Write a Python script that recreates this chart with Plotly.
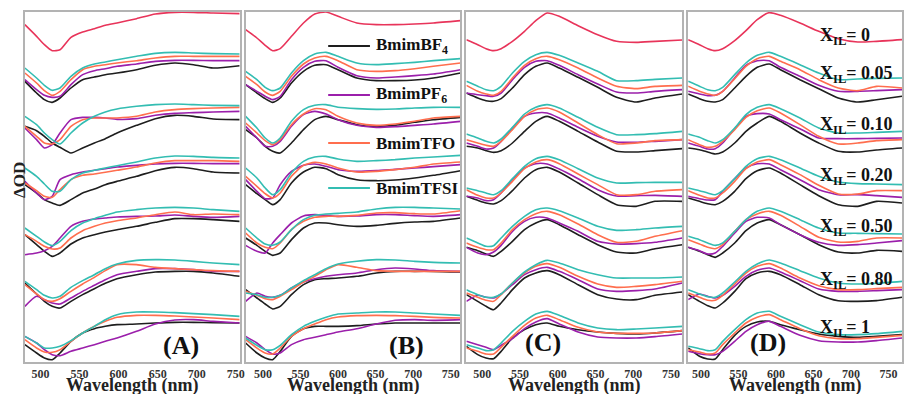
import plotly.graph_objects as go

# ---------------- data (ΔOD, arbitrary units, vertically offset per X_IL) ----------------
# wavelength grids (nm) at which each panel's curves were read
WL_A = [480, 495, 505, 515, 525, 539, 554, 569, 583, 598, 623, 647, 672, 696, 721, 755]
WL_B = [477, 492, 503, 513, 523, 538, 554, 569, 584, 600, 625, 651, 676, 702, 727, 763]
WL_C = [479, 494, 505, 515, 525, 540, 556, 571, 586, 602, 627, 653, 678, 704, 729, 765]
WL_D = [483, 498, 509, 519, 529, 545, 560, 575, 591, 606, 632, 657, 683, 709, 734, 768]
XIL = ["0", "0.05", "0.10", "0.20", "0.50", "0.80", "1"]
SERIES = ["BmimBF<sub>4</sub>", "BmimPF<sub>6</sub>", "BmimTFO", "BmimTFSI"]
PANELS = ["(A)", "(B)", "(C)", "(D)"]
TICKS = [500, 550, 600, 650, 700, 750]
X_RANGES = [[480, 755], [477, 763], [479, 765], [483, 768]]

# ---- Panel A ----
A_X0 = [-50, -85, -110, -128, -125, -88, -72, -62, -52, -45, -32, -18, -13, -13, -15, -17]
A_BF4 = [
    [-220, -255, -275, -283, -270, -240, -215, -207, -200, -195, -185, -172, -165, -170, -180, -173],
    [-355, -368, -385, -405, -418, -435, -420, -405, -392, -375, -352, -332, -322, -325, -333, -335],
    [-530, -555, -575, -585, -592, -575, -555, -543, -530, -520, -505, -488, -478, -482, -492, -495],
    [-680, -710, -730, -745, -735, -708, -690, -680, -672, -665, -655, -643, -632, -632, -635, -640],
    [-825, -858, -880, -895, -900, -880, -860, -842, -826, -812, -800, -792, -790, -790, -795, -805],
    [-1010, -1035, -1050, -1055, -1035, -1000, -975, -962, -955, -950, -948, -945, -943, -943, -944, -945],
]
A_PF6 = [
    [-215, -245, -262, -268, -265, -230, -200, -188, -182, -175, -168, -160, -157, -157, -158, -158],
    [-360, -395, -420, -410, -375, -335, -328, -328, -330, -334, -332, -322, -316, -314, -312, -310],
    [-520, -555, -575, -565, -515, -500, -492, -487, -482, -477, -472, -468, -466, -466, -467, -467],
    [-740, -735, -728, -715, -690, -655, -640, -633, -630, -627, -625, -624, -621, -625, -628, -625],
    [-895, -865, -875, -885, -888, -870, -850, -832, -815, -800, -790, -782, -782, -785, -790, -790],
    [-985, -1005, -1025, -1040, -1043, -1030, -1020, -1010, -1000, -990, -970, -948, -936, -935, -940, -945],
]
A_TFO = [
    [-195, -225, -248, -262, -250, -215, -185, -175, -170, -165, -158, -150, -145, -145, -145, -145],
    [-355, -385, -405, -408, -395, -355, -335, -330, -330, -330, -325, -312, -305, -302, -300, -298],
    [-525, -548, -565, -568, -545, -515, -502, -498, -493, -487, -477, -465, -458, -458, -458, -460],
    [-680, -700, -715, -723, -720, -690, -668, -655, -645, -638, -630, -620, -612, -620, -618, -620],
    [-830, -858, -875, -880, -872, -850, -828, -808, -788, -770, -770, -778, -782, -785, -788, -790],
    [-995, -1020, -1032, -1033, -1025, -1000, -975, -955, -940, -928, -922, -922, -924, -927, -930, -935],
]
A_TFSI = [
    [-180, -210, -232, -247, -240, -205, -180, -168, -162, -155, -145, -136, -133, -135, -137, -138],
    [-325, -350, -375, -395, -408, -375, -345, -325, -312, -303, -295, -290, -288, -290, -292, -293],
    [-480, -505, -528, -550, -550, -515, -495, -487, -480, -473, -462, -450, -444, -445, -448, -450],
    [-660, -685, -702, -713, -700, -668, -645, -632, -622, -612, -605, -600, -598, -600, -605, -610],
    [-820, -845, -862, -870, -865, -838, -818, -800, -782, -768, -757, -755, -756, -760, -765, -770],
    [-985, -1005, -1020, -1020, -1015, -998, -975, -955, -935, -920, -912, -912, -914, -917, -920, -925],
]

# ---- Panel B ----
B_X0 = [-65, -90, -112, -128, -122, -85, -45, -18, -12, -25, -45, -50, -50, -48, -45, -38]
B_BF4 = [
    [-230, -255, -272, -283, -270, -225, -190, -172, -170, -185, -210, -218, -218, -216, -210, -195],
    [-365, -390, -415, -430, -435, -405, -365, -335, -325, -335, -350, -355, -352, -343, -335, -328],
    [-530, -557, -575, -590, -575, -525, -492, -478, -482, -500, -515, -518, -516, -510, -502, -488],
    [-690, -712, -730, -742, -735, -695, -660, -645, -645, -650, -655, -652, -646, -642, -640, -630],
    [-845, -870, -888, -903, -895, -860, -830, -815, -812, -810, -805, -795, -790, -790, -790, -792],
    [-1005, -1035, -1050, -1055, -1030, -985, -962, -955, -955, -955, -953, -948, -945, -945, -945, -945],
]
B_PF6 = [
    [-230, -250, -265, -275, -265, -215, -178, -160, -158, -178, -203, -210, -207, -203, -198, -185],
    [-355, -390, -415, -415, -400, -355, -320, -310, -318, -335, -352, -358, -356, -352, -348, -340],
    [-515, -550, -572, -570, -530, -490, -472, -468, -475, -485, -490, -488, -484, -480, -476, -470],
    [-712, -730, -735, -705, -680, -645, -624, -620, -622, -625, -624, -620, -620, -623, -625, -620],
    [-880, -855, -865, -868, -862, -840, -822, -812, -805, -800, -795, -785, -780, -783, -788, -790],
    [-985, -1005, -1025, -1038, -1035, -1010, -995, -988, -980, -972, -962, -948, -937, -935, -937, -935],
]
B_TFO = [
    [-205, -230, -252, -262, -250, -205, -168, -150, -145, -158, -185, -190, -188, -182, -175, -165],
    [-345, -375, -398, -410, -395, -350, -318, -302, -305, -325, -345, -352, -348, -340, -330, -325],
    [-505, -535, -557, -570, -555, -505, -472, -463, -468, -480, -492, -490, -485, -478, -468, -462],
    [-675, -705, -718, -722, -705, -665, -640, -628, -625, -625, -622, -615, -614, -617, -618, -608],
    [-850, -862, -872, -875, -865, -845, -822, -805, -785, -770, -778, -788, -790, -790, -790, -790],
    [-995, -1020, -1035, -1038, -1020, -985, -962, -948, -935, -927, -923, -922, -923, -925, -928, -930],
]
B_TFSI = [
    [-190, -215, -238, -248, -240, -195, -158, -138, -133, -145, -165, -170, -167, -163, -158, -152],
    [-325, -360, -390, -405, -390, -340, -305, -292, -290, -298, -302, -304, -303, -300, -298, -298],
    [-480, -510, -540, -560, -545, -495, -460, -447, -445, -453, -460, -458, -455, -450, -447, -442],
    [-660, -690, -708, -712, -702, -665, -635, -622, -618, -616, -612, -603, -598, -598, -600, -603],
    [-855, -860, -868, -868, -862, -840, -818, -800, -782, -768, -760, -755, -756, -760, -763, -765],
    [-990, -1012, -1025, -1025, -1012, -980, -955, -940, -928, -918, -915, -912, -912, -915, -918, -922],
]

# ---- Panel C ----
C_X0 = [-95, -110, -122, -128, -122, -100, -70, -38, -15, -25, -53, -80, -100, -103, -100, -96]
C_BF4 = [
    [-255, -270, -278, -280, -272, -240, -200, -175, -165, -180, -208, -238, -268, -282, -270, -258],
    [-415, -420, -428, -433, -428, -405, -370, -340, -325, -340, -370, -402, -430, -432, -428, -422],
    [-565, -577, -585, -588, -578, -548, -510, -485, -478, -492, -525, -560, -590, -595, -580, -580],
    [-718, -728, -738, -745, -730, -700, -665, -645, -635, -650, -680, -710, -732, -735, -722, -710],
    [-860, -880, -895, -905, -885, -845, -810, -795, -788, -800, -830, -860, -873, -875, -862, -852],
    [-1015, -1040, -1050, -1052, -1030, -990, -965, -950, -945, -955, -965, -972, -976, -978, -975, -968],
]
C_PF6 = [
    [-255, -260, -263, -265, -255, -215, -178, -160, -158, -172, -200, -228, -252, -255, -250, -245],
    [-405, -415, -423, -420, -400, -360, -325, -315, -315, -330, -358, -385, -402, -403, -400, -395],
    [-565, -570, -578, -575, -555, -515, -480, -467, -468, -483, -512, -545, -564, -563, -562, -565],
    [-718, -735, -740, -732, -712, -670, -640, -628, -630, -645, -670, -700, -708, -707, -703, -690],
    [-880, -862, -868, -870, -858, -830, -800, -785, -778, -790, -815, -843, -850, -848, -843, -825],
    [-1000, -1010, -1018, -1025, -1012, -992, -962, -942, -932, -948, -972, -987, -990, -990, -986, -978],
]
C_TFO = [
    [-232, -250, -258, -262, -250, -210, -172, -152, -145, -155, -180, -210, -235, -242, -235, -232],
    [-395, -405, -412, -415, -400, -365, -325, -305, -300, -312, -345, -380, -407, -405, -398, -395],
    [-545, -562, -570, -570, -555, -520, -482, -462, -455, -467, -498, -530, -560, -560, -550, -545],
    [-705, -718, -725, -725, -705, -665, -635, -617, -610, -620, -648, -680, -703, -700, -685, -668],
    [-855, -868, -877, -880, -860, -825, -795, -775, -767, -778, -805, -828, -838, -835, -830, -820],
    [-1020, -1030, -1038, -1038, -1018, -985, -952, -930, -922, -935, -958, -972, -976, -976, -975, -968],
]
C_TFSI = [
    [-220, -235, -245, -248, -235, -195, -160, -140, -133, -142, -165, -190, -218, -218, -214, -210],
    [-378, -390, -400, -405, -393, -358, -318, -298, -290, -300, -328, -358, -380, -380, -377, -370],
    [-540, -548, -555, -560, -548, -512, -475, -452, -445, -455, -482, -510, -525, -524, -523, -523],
    [-690, -705, -715, -713, -690, -655, -625, -605, -600, -608, -630, -655, -667, -665, -660, -655],
    [-845, -860, -868, -868, -858, -825, -792, -770, -757, -765, -785, -800, -810, -810, -810, -807],
    [-1010, -1020, -1028, -1025, -1005, -970, -940, -918, -910, -922, -945, -960, -965, -963, -960, -955],
]

# ---- Panel D ----
D_X0 = [-95, -110, -122, -128, -122, -98, -68, -35, -14, -22, -45, -70, -92, -102, -100, -95]
D_BF4 = [
    [-258, -272, -280, -282, -275, -240, -205, -178, -168, -185, -215, -242, -270, -282, -275, -265],
    [-420, -425, -432, -438, -432, -405, -370, -345, -325, -340, -375, -405, -430, -432, -426, -420],
    [-570, -580, -587, -590, -580, -550, -512, -488, -480, -495, -530, -563, -590, -595, -580, -585],
    [-718, -730, -740, -748, -735, -705, -668, -645, -635, -650, -680, -710, -732, -735, -727, -730],
    [-860, -880, -893, -900, -885, -850, -812, -795, -790, -800, -830, -860, -878, -880, -878, -868],
    [-1020, -1045, -1053, -1053, -1025, -982, -955, -942, -940, -950, -965, -978, -985, -988, -985, -980],
]
D_PF6 = [
    [-250, -258, -263, -262, -250, -210, -172, -158, -158, -178, -205, -232, -250, -250, -248, -245],
    [-405, -415, -423, -422, -405, -362, -325, -317, -318, -335, -362, -390, -392, -392, -391, -390],
    [-565, -572, -576, -575, -550, -512, -480, -467, -468, -485, -515, -545, -560, -560, -563, -568],
    [-718, -728, -738, -735, -715, -675, -640, -628, -630, -650, -680, -703, -712, -710, -705, -698],
    [-875, -858, -865, -870, -862, -835, -805, -787, -780, -792, -818, -843, -850, -850, -848, -845],
    [-1030, -1037, -1040, -1040, -1030, -1000, -970, -950, -940, -955, -982, -998, -1002, -1002, -998, -990],
]
D_TFO = [
    [-235, -250, -258, -262, -250, -212, -175, -152, -145, -160, -185, -215, -240, -248, -235, -240],
    [-395, -410, -418, -415, -400, -365, -328, -308, -300, -315, -350, -385, -408, -405, -398, -395],
    [-548, -562, -570, -570, -555, -520, -482, -462, -455, -470, -500, -532, -558, -558, -548, -548],
    [-695, -708, -718, -722, -710, -670, -635, -618, -610, -622, -655, -688, -702, -700, -690, -690],
    [-855, -868, -877, -877, -862, -828, -795, -775, -767, -780, -810, -833, -845, -845, -842, -838],
    [-1025, -1032, -1038, -1035, -1010, -975, -945, -928, -920, -935, -962, -983, -992, -992, -988, -982],
]
D_TFSI = [
    [-220, -235, -245, -248, -238, -200, -165, -142, -133, -145, -170, -195, -215, -213, -211, -210],
    [-378, -388, -398, -405, -395, -360, -320, -298, -290, -302, -330, -360, -375, -375, -373, -370],
    [-540, -548, -555, -560, -548, -512, -475, -452, -445, -455, -480, -505, -522, -527, -528, -530],
    [-685, -695, -705, -712, -705, -670, -635, -610, -600, -610, -635, -660, -675, -676, -677, -678],
    [-845, -858, -866, -868, -855, -822, -790, -768, -756, -765, -788, -810, -825, -828, -826, -820],
    [-1015, -1022, -1028, -1025, -1000, -965, -935, -915, -910, -925, -950, -972, -980, -980, -977, -970],
]

PANEL_DATA = [
    (WL_A, A_X0, [A_BF4, A_PF6, A_TFO, A_TFSI]),
    (WL_B, B_X0, [B_BF4, B_PF6, B_TFO, B_TFSI]),
    (WL_C, C_X0, [C_BF4, C_PF6, C_TFO, C_TFSI]),
    (WL_D, D_X0, [D_BF4, D_PF6, D_TFO, D_TFSI]),
]

# ---------------- styling ----------------
W, H = 908, 394
X0_COLOR = "#e8345a"
COLORS = ["#1e1e1e", "#9b1fab", "#ff6e4e", "#33bdb2"]
SERIF = "Liberation Serif"
FRAME_PX = [(25, 241), (247, 463), (469, 686), (692, 907)]
TOP_PX, BOT_PX = 12, 362


def px_x(p):
    return p / W


def px_y(p):
    return (H - p) / H


fig = go.Figure()
layout_axes = {}
for i, (wl, x0series, groups) in enumerate(PANEL_DATA):
    ax = "" if i == 0 else str(i + 1)
    xref, yref = "x" + ax, "y" + ax
    fig.add_trace(go.Scatter(x=wl, y=x0series, mode="lines", xaxis=xref, yaxis=yref,
                             line=dict(color=X0_COLOR, width=1.6, shape="spline", smoothing=0.6),
                             showlegend=False, hoverinfo="skip"))
    for g in range(6):
        for s in range(4):
            fig.add_trace(go.Scatter(x=wl, y=groups[s][g], mode="lines", xaxis=xref, yaxis=yref,
                                     name=SERIES[s],
                                     line=dict(color=COLORS[s], width=1.6, shape="spline", smoothing=0.6),
                                     showlegend=False, hoverinfo="skip"))
    l, r = FRAME_PX[i]
    layout_axes["xaxis" + ax] = dict(
        domain=[px_x(l), px_x(r)], range=X_RANGES[i], anchor=yref,
        tickmode="array", tickvals=TICKS, ticktext=[str(t) for t in TICKS],
        ticks="", showgrid=False, zeroline=False, ticklabeloverflow="allow",
        showline=True, mirror=True, linecolor="#b3b3b3", linewidth=1.5,
        tickfont=dict(family=SERIF, size=12, color="#333333", weight="bold"),
    )
    layout_axes["yaxis" + ax] = dict(
        domain=[px_y(BOT_PX), px_y(TOP_PX)], range=[-1062, -12], anchor=xref,
        showticklabels=False, ticks="", showgrid=False, zeroline=False,
        showline=True, mirror=True, linecolor="#b3b3b3", linewidth=1.5,
    )

annotations = []
shapes = []
# axis titles
for i, (l, r) in enumerate(FRAME_PX):
    annotations.append(dict(x=px_x((l + r) / 2), y=px_y(385), xref="paper", yref="paper",
                            text="<b>Wavelength (nm)</b>", showarrow=False,
                            font=dict(family=SERIF, size=18, color="#222222"),
                            xanchor="center", yanchor="middle"))
annotations.append(dict(x=px_x(19), y=px_y(180), xref="paper", yref="paper", text="<b>ΔOD</b>",
                        textangle=-90, showarrow=False, font=dict(family=SERIF, size=17, color="#222222"),
                        xanchor="center", yanchor="middle"))
# panel labels
PANEL_POS = [(182, 345), (409, 345), (546, 342), (772, 342)]
for lab, (px, py) in zip(PANELS, PANEL_POS):
    annotations.append(dict(x=px_x(px), y=px_y(py), xref="paper", yref="paper", text="<b>%s</b>" % lab,
                            showarrow=False, font=dict(family=SERIF, size=26, color="#111111"),
                            xanchor="center", yanchor="middle"))
# legend in panel B
LEG_Y = [46, 95, 143, 188]
for s in range(4):
    shapes.append(dict(type="line", xref="paper", yref="paper", x0=px_x(330), x1=px_x(372),
                       y0=px_y(LEG_Y[s]), y1=px_y(LEG_Y[s]), line=dict(color=COLORS[s], width=2)))
    annotations.append(dict(x=px_x(376), y=px_y(LEG_Y[s]), xref="paper", yref="paper",
                            text="<b>%s</b>" % SERIES[s], showarrow=False,
                            font=dict(family=SERIF, size=17, color="#111111"),
                            xanchor="left", yanchor="middle"))
# X_IL labels in panel D
XIL_Y = [36, 74, 125, 176, 228, 280, 328]
for lab, py in zip(XIL, XIL_Y):
    annotations.append(dict(x=px_x(823), y=px_y(py), xref="paper", yref="paper",
                            text="<b>X<sub>IL</sub>= %s</b>" % lab, showarrow=False,
                            font=dict(family=SERIF, size=18, color="#111111"),
                            xanchor="left", yanchor="middle"))

fig.update_layout(
    width=W, height=H, autosize=False, margin=dict(l=0, r=0, t=0, b=0, pad=0),
    paper_bgcolor="white", plot_bgcolor="white",
    showlegend=False, annotations=annotations, shapes=shapes,
    **layout_axes,
)
fig.write_html("out.html", config={"displayModeBar": False},
               post_script="document.body.style.margin='0';document.body.style.padding='0';"
                           "document.body.style.overflow='hidden';"
                           "document.documentElement.style.overflow='hidden';")
